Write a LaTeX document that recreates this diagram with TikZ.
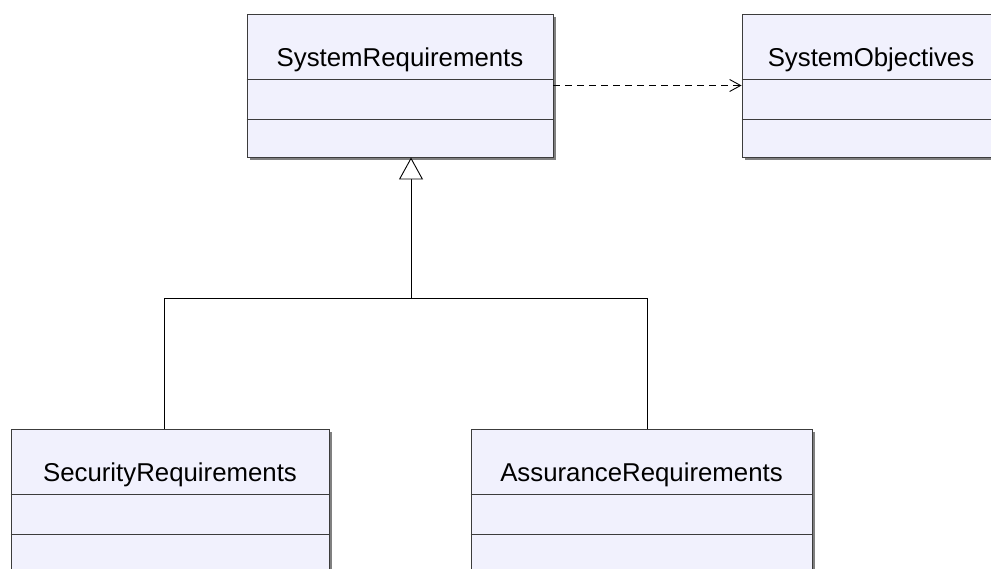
\documentclass[tikz,border=0pt]{standalone}
\usepackage{fontspec}
\setmainfont{Liberation Sans}
\usepackage{tikz}
\usetikzlibrary{arrows.meta}
\usetikzlibrary{calc}
\usetikzlibrary{shadows}
\definecolor{classfill}{RGB}{241,241,253}
\definecolor{classline}{RGB}{60,60,60}
\begin{document}
\begin{tikzpicture}[x=1pt, y=-1pt, line width=0.9pt,
        class_style/.style={rectangle,draw=classline,fill=classfill,inner sep=0pt,minimum height=143pt,
                drop shadow={shadow xshift=2.5pt,shadow yshift=-2.5pt,fill=black!50,opacity=1}},
        name_style/.style={anchor=base,inner sep=0pt,font=\fontsize{25.8}{30}\selectfont},
        part_style/.style={draw=classline},
        edge_style/.style={draw=black},
        depend_style/.style={draw=black,dash pattern=on 7pt off 5pt,-{Straight Barb[length=11pt,width=12pt]}},
        inherit_style/.style={draw=black,-{Triangle[open,length=22pt,width=24pt,fill=white]}}]

        \useasboundingbox (0,0) rectangle (991,568);
        \clip (0,0) rectangle (991,568);

        % classes
        \node [class_style,minimum width=306pt](sysreq) at (400,85.5) {};
        \node [class_style,minimum width=258pt](sysobj) at (871,85.5) {};
        \node [class_style,minimum width=318pt](secreq) at (170,500.5) {};
        \node [class_style,minimum width=341pt](assreq) at (641.5,500.5) {};

        \node [name_style](sysreq_name) at ($(sysreq.north)+(0,53)$) {SystemRequirements};
        \node [name_style](sysobj_name) at ($(sysobj.north)+(0,53)$) {SystemObjectives};
        \node [name_style](secreq_name) at ($(secreq.north)+(0,53)$) {SecurityRequirements};
        \node [name_style](assreq_name) at ($(assreq.north)+(0,53)$) {AssuranceRequirements};

        % compartments
        \foreach \c in {sysreq,sysobj,secreq,assreq}{
            \draw [part_style] ($(\c.north west)+(0,66)$) -- ($(\c.north east)+(0,66)$);
            \draw [part_style] ($(\c.north west)+(0,106)$) -- ($(\c.north east)+(0,106)$);
        }

        % relations
        \coordinate (fork) at ($(sysreq.south)+(11,141)$);
        \draw [depend_style] (sysreq.east) -- (sysobj.west);
        \draw [edge_style] ([xshift=-6pt]secreq.north) |- (fork) -| ([xshift=5.5pt]assreq.north);
        \draw [inherit_style] (fork) -- (fork |- sysreq.south);
\end{tikzpicture}
\end{document}
